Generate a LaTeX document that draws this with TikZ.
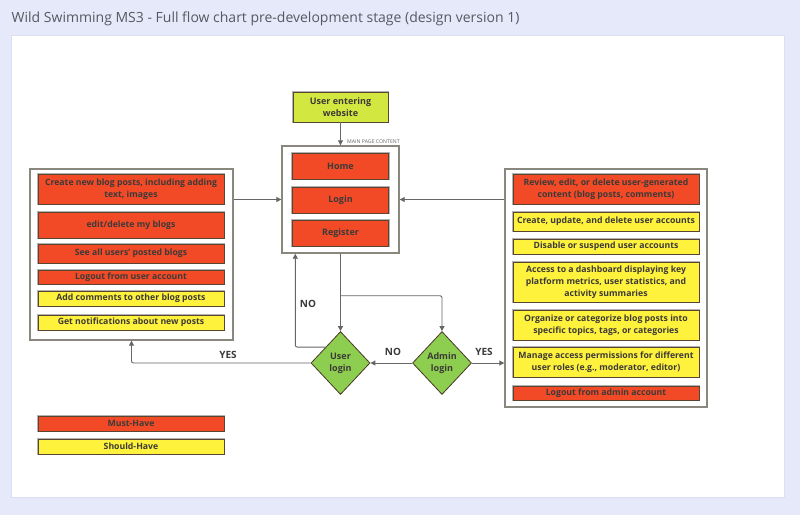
\documentclass[tikz,border=0pt]{standalone}
\usepackage{fontspec}
\setmainfont{Open Sans}
\usetikzlibrary{arrows.meta,shapes,calc}

\definecolor{bgblue}{HTML}{E6E9FA}
\definecolor{panelline}{HTML}{DCDFF2}
\definecolor{musthave}{HTML}{F24A27}
\definecolor{shouldhave}{HTML}{FFF23C}
\definecolor{startgreen}{HTML}{D3E741}
\definecolor{decgreen}{HTML}{8DCD4F}
\definecolor{edgebrown}{HTML}{5A4630}
\definecolor{framegrey}{HTML}{8A877E}
\definecolor{linegrey}{HTML}{666666}
\definecolor{txt}{HTML}{3C3A38}
\definecolor{titlegrey}{HTML}{555A60}

\tikzset{
  feature/.style={draw=edgebrown, line width=0.9pt, preaction={draw=black!30, line width=2.6pt},
    text=txt, font=\fontsize{8.7}{12}\selectfont\bfseries, align=center, inner sep=0pt,
    minimum width=186pt},
  must/.style={feature, fill=musthave},
  should/.style={feature, fill=shouldhave},
  page/.style={feature, fill=musthave, minimum width=96pt, minimum height=26pt,
    font=\fontsize{9}{12}\selectfont\bfseries},
  frame/.style={draw=framegrey, line width=1.4pt, fill=white},
  decision/.style={diamond, draw=edgebrown!80!black, line width=0.8pt, fill=decgreen,
    minimum width=59pt, minimum height=63pt, inner sep=0pt, align=center, text=txt,
    font=\fontsize{9}{12}\selectfont\bfseries},
  flow/.style={draw=linegrey, line width=0.9pt, -{Triangle[length=5pt,width=5pt]}},
  answer/.style={text=txt, font=\fontsize{10}{12}\selectfont\bfseries}
}

\begin{document}
\begin{tikzpicture}[x=1pt, y=-1pt]

\def\lx{131}; % left column
\def\mx{340.5}; % middle column
\def\rx{606}; % right column

\useasboundingbox (0,0) rectangle (800,515);
\fill[bgblue] (0,0) rectangle (800,515);
\draw[panelline, fill=white] (11,35) rectangle (784,497);
\node[anchor=west, inner sep=0pt, text=titlegrey, font=\fontsize{14}{16}\selectfont] (title) at (11.5,19)
  {Wild Swimming MS3 - Full flow chart pre-development stage (design version 1)};

% frames
\node[frame, minimum width=203pt, minimum height=171pt] (userbox) at (131.5,254.5) {};
\node[frame, minimum width=117pt, minimum height=107pt] (mainbox) at (\mx,199.5) {};
\node[frame, minimum width=202pt, minimum height=238pt] (adminbox) at (\rx,288) {};

% start
\node[feature, fill=startgreen, minimum width=95pt, minimum height=30pt,
  font=\fontsize{9}{12}\selectfont\bfseries] (start) at (\mx,107) {User entering\\ website};
\node[anchor=west, inner sep=0pt, text=linegrey, font=\fontsize{5.2}{6}\selectfont] (pagelbl) at (347,142) {MAIN PAGE CONTENT};

% main page
\node[page] (home) at (\mx,166) {Home};
\node[page] (login) at (\mx,200) {Login};
\node[page] (register) at (\mx,233) {Register};

% user features
\node[must, minimum height=30pt] (u1) at (\lx,189) {Create new blog posts, including adding\\ text, images};
\node[must, minimum height=26pt] (u2) at (\lx,225) {edit/delete my blogs};
\node[must, minimum height=19pt] (u3) at (\lx,253.5) {See all users' posted blogs};
\node[must, minimum height=14pt] (u4) at (\lx,277) {Logout from user account};
\node[should, minimum height=15pt] (u5) at (\lx,298.5) {Add comments to other blog posts};
\node[should, minimum height=15pt] (u6) at (\lx,322.5) {Get notifications about new posts};

% admin features
\node[must, minimum height=30pt] (a1) at (\rx,189) {Review, edit, or delete user-generated\\ content (blog posts, comments)};
\node[should, minimum height=19pt] (a2) at (\rx,221.5) {Create, update, and delete user accounts};
\node[should, minimum height=15pt] (a3) at (\rx,246.5) {Disable or suspend user accounts};
\node[should, minimum height=40pt] (a4) at (\rx,282) {Access to a dashboard displaying key\\ platform metrics, user statistics, and\\ activity summaries};
\node[should, minimum height=30pt] (a5) at (\rx,325) {Organize or categorize blog posts into\\ specific topics, tags, or categories};
\node[should, minimum height=30pt] (a6) at (\rx,362) {Manage access permissions for different\\ user roles (e.g., moderator, editor)};
\node[must, minimum height=14pt] (a7) at (\rx,393) {Logout from admin account};

% decisions
\node[decision] (ulogin) at (\mx,363) {User\\ login};
\node[decision] (alogin) at (442,363) {Admin\\ login};

% legend
\node[must, minimum height=15pt] (legmust) at (\lx,423.5) {Must-Have};
\node[should, minimum height=15pt] (legshould) at (\lx,446.5) {Should-Have};

% connectors
\coordinate (split) at ($(mainbox.south)+(0,42)$);
\coordinate (back) at ($(mainbox.south west)+(14,0)$);
\draw[flow] (start.south) -- (mainbox.north);
\draw[flow] (userbox.east |- mainbox.west) -- (mainbox.west);
\draw[flow] (adminbox.west |- mainbox.east) -- (mainbox.east);
\draw[flow] (mainbox.south) -- (ulogin.north);
\draw[flow, rounded corners=2pt] (split) -| (alogin.north);
\draw[flow, rounded corners=2pt] (ulogin.north west) -| (back);
\draw[flow, rounded corners=2pt] (ulogin.west) -| (userbox.south);
\draw[flow] (alogin.west) -- (ulogin.east);
\draw[flow] (alogin.east) -- (alogin.east -| adminbox.west);

\node[answer] (nouser) at (308,304) {NO};
\node[answer] (yesuser) at (228,355) {YES};
\node[answer] (noadmin) at (393,352) {NO};
\node[answer] (yesadmin) at (484,352) {YES};

\end{tikzpicture}
\end{document}
